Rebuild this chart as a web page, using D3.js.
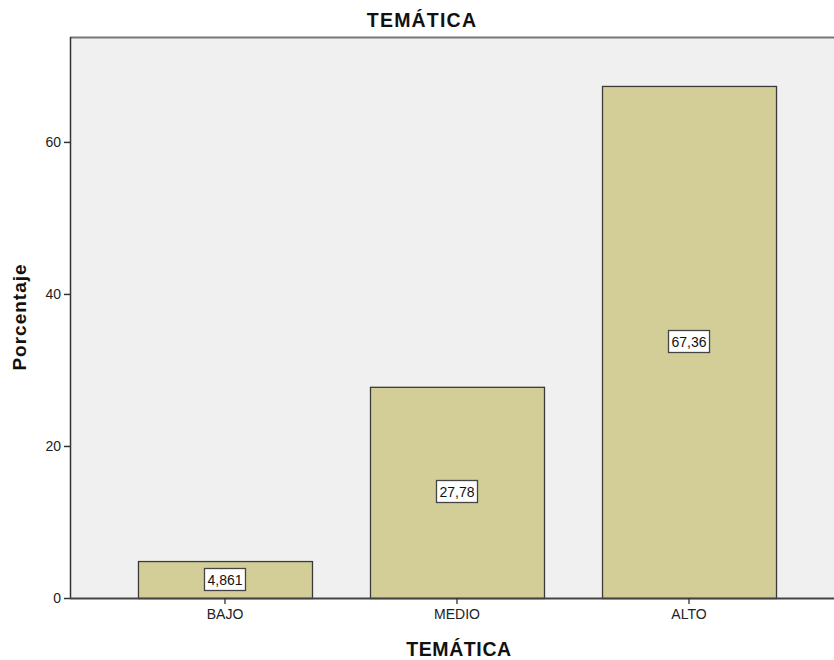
<!DOCTYPE html>
<html>
<head>
<meta charset="utf-8">
<script src="https://cdn.jsdelivr.net/npm/d3@7"></script>
<style>
  html, body { margin: 0; padding: 0; background: #fff; }
  svg { display: block; font-family: "Liberation Sans", Arial, sans-serif; }
</style>
</head>
<body>
<svg id="chart" width="834" height="660"></svg>
<script>
// Distribution of "TEMÁTICA" levels, percentages
const categories = ["BAJO", "MEDIO", "ALTO"];
const values = [4.861, 27.78, 67.36];
const valueLabels = ["4,861", "27,78", "67,36"];
const yTicks = [0, 20, 40, 60];

const svg = d3.select("#chart");
const margin = { left: 70, top: 37, right: -10, bottom: 62 };
const W = 834, H = 660;
const x0 = margin.left, x1 = W - margin.right;
const y0 = H - margin.bottom, y1 = margin.top;

const x = d3.scaleBand().domain(categories).range([x0, x1])
  .paddingInner(0.25).paddingOuter(0.293);
const y = d3.scaleLinear().domain([0, 73.8]).range([y0, y1]);

// plot background
svg.append("rect").attr("x", x0).attr("y", y1)
  .attr("width", x1 - x0).attr("height", y0 - y1)
  .attr("fill", "#f0f0f0");
// top frame line
svg.append("line").attr("x1", x0).attr("x2", x1).attr("y1", y1 + 0.5).attr("y2", y1 + 0.5)
  .attr("stroke", "#777").attr("stroke-width", 2);

// bars
svg.selectAll("rect.bar").data(categories).join("rect")
  .attr("class", "bar")
  .attr("x", d => x(d) + 0.5)
  .attr("y", (d, i) => y(values[i]) + 0.5)
  .attr("width", x.bandwidth())
  .attr("height", (d, i) => y(0) - y(values[i]))
  .attr("fill", "#d3ce98")
  .attr("stroke", "#3a3a3a")
  .attr("stroke-width", 1.3);

// value labels
const lbl = svg.selectAll("g.lbl").data(categories).join("g")
  .attr("class", "lbl")
  .attr("transform", (d, i) => `translate(${x(d) + x.bandwidth() / 2},${Math.round(y(values[i] / 2))})`);
lbl.each(function (d, i) {
  const g = d3.select(this);
  const t = g.append("text").attr("text-anchor", "middle").attr("dy", "0.36em")
    .attr("font-size", 14).attr("fill", "#111").text(valueLabels[i]);
  const bb = t.node().getBBox();
  g.insert("rect", "text")
    .attr("x", Math.round(bb.x - 3) + 0.5).attr("y", -11.5)
    .attr("width", Math.round(bb.width + 6)).attr("height", 22)
    .attr("fill", "#fff").attr("stroke", "#444").attr("stroke-width", 1.3);
});

// y axis
const yAxis = svg.append("g").attr("transform", `translate(${x0},0)`)
  .call(d3.axisLeft(y).tickValues(yTicks).tickSize(6).tickPadding(3));
yAxis.select(".domain").attr("stroke", "#333").attr("stroke-width", 1.5)
  .attr("d", `M0.5,${y1}V${y0}`);
yAxis.selectAll(".tick line").attr("stroke", "#333").attr("stroke-width", 1.5);
yAxis.selectAll(".tick text").attr("font-size", 14).attr("fill", "#222")
  .attr("font-family", "Liberation Sans, Arial, sans-serif");

// x axis
const xAxis = svg.append("g").attr("transform", `translate(0,${y0})`)
  .call(d3.axisBottom(x).tickSize(6).tickPadding(5));
xAxis.select(".domain").attr("stroke", "#444").attr("stroke-width", 2)
  .attr("d", `M${x0},0.5H${x1}`);
xAxis.selectAll(".tick line").attr("stroke", "#333").attr("stroke-width", 1.3);
xAxis.selectAll(".tick text").attr("font-size", 14).attr("fill", "#222")
  .attr("font-family", "Liberation Sans, Arial, sans-serif");

// titles
svg.append("text").attr("x", 422).attr("y", 27).attr("text-anchor", "middle")
  .attr("font-size", 19.5).attr("font-weight", "bold").attr("letter-spacing", 1.2)
  .attr("fill", "#111").text("TEMÁTICA");
svg.append("text").attr("x", 459).attr("y", 656).attr("text-anchor", "middle")
  .attr("font-size", 19.5).attr("font-weight", "bold").attr("letter-spacing", 0.6)
  .attr("fill", "#111").text("TEMÁTICA");
svg.append("text").attr("transform", "translate(26,317) rotate(-90)")
  .attr("text-anchor", "middle")
  .attr("font-size", 19).attr("font-weight", "bold").attr("letter-spacing", 1)
  .attr("fill", "#111").text("Porcentaje");
</script>
</body>
</html>
